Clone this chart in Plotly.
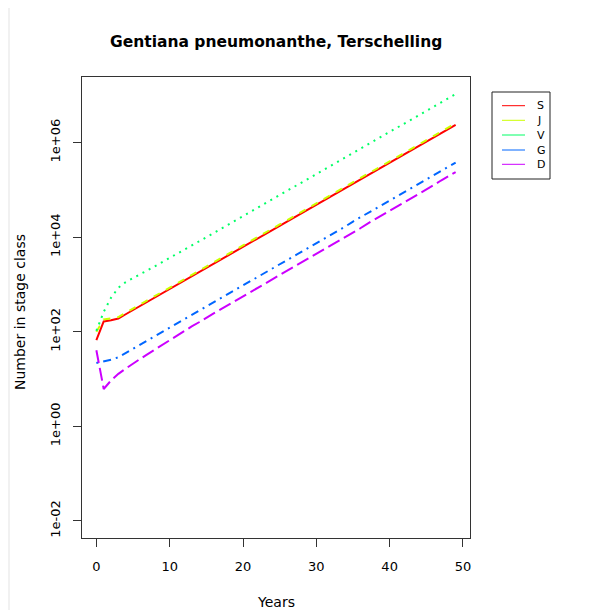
import plotly.graph_objects as go

years = list(range(50))

S = [66.8, 164.8, 175.8, 190.5, 234.4, 288.4, 354.0, 434.5, 533.3, 654.6,
     803.5, 986.3, 1211, 1486, 1824, 2239, 2748, 3373, 4140, 5082,
     6237, 7656, 9397, 11530, 14160, 17380, 21330, 26180, 32140, 39450,
     48420, 59430, 72950, 89540, 109900, 134900, 165600, 203200, 249500, 306200,
     375800, 461300, 566200, 695000, 853100, 1047000, 1285000, 1578000, 1936000, 2377000]

J = [100, 182, 190.5, 204.1, 251.2, 309.0, 379.3, 465.6, 571.4, 701.4,
     861.0, 1057, 1298, 1592, 1954, 2399, 2944, 3614, 4436, 5445,
     6683, 8203, 10070, 12350, 15170, 18620, 22860, 28050, 34440, 42270,
     51880, 63680, 78170, 95940, 117800, 144500, 177400, 217700, 267300, 328100,
     402700, 494300, 606700, 744700, 914100, 1122000, 1377000, 1691000, 2074000, 2547000]

V = [104.7, 263.0, 524.8, 851.1, 1122, 1380, 1660, 1995, 2427, 2951,
     3606, 4406, 5408, 6637, 8147, 10000, 12274, 15070, 18490, 22700,
     27860, 34200, 41980, 51520, 63240, 77620, 95280, 116950, 143550, 176200,
     216300, 265500, 325800, 399900, 490900, 602600, 739600, 907800, 1114000, 1368000,
     1679000, 2061000, 2529000, 3105000, 3811000, 4677000, 5741000, 7047000, 8650000, 10620000]

G = [21.88, 23.44, 25.70, 28.84, 35.08, 43.65, 53.58, 65.77, 80.72, 99.08,
     121.6, 149.3, 183.2, 224.9, 276.1, 338.8, 415.9, 510.5, 626.6, 769.1,
     944.1, 1186, 1456, 1787, 2193, 2692, 3304, 4055, 4977, 6109,
     7499, 9204, 11300, 13870, 17020, 21380, 26240, 32210, 39540, 48530,
     59570, 73110, 89740, 110200, 135200, 166000, 203700, 250000, 306900, 376700]

D = [40.74, 6.166, 9.333, 12.88, 16.60, 21.38, 26.85, 33.73, 42.36, 53.21,
     66.83, 83.95, 105.4, 129.4, 158.9, 199.5, 244.9, 300.6, 369.0, 452.9,
     555.9, 698.2, 857.0, 1052, 1291, 1585, 1945, 2388, 2931, 3681,
     4519, 5546, 6808, 8356, 10260, 12590, 15450, 19410, 23820, 29240,
     35890, 44060, 54080, 67920, 83370, 102300, 125600, 157800, 193600, 237700]

stage_names = ["S", "J", "V", "G", "D"]
stage_values = [S, J, V, G, D]
stage_colors = ["#FF0000", "#CCFF00", "#00FF66", "#0066FF", "#CC00FF"]
stage_dashes = ["solid", "7px,7px", "2px,5px", "2px,5px,8px,5px", "13px,5px"]

x_ticks = [0, 10, 20, 30, 40, 50]
y_ticks = [0.01, 1, 100, 1e4, 1e6]
y_ticktext = ["1e-02", "1e+00", "1e+02", "1e+04", "1e+06"]

# page offset of the plot div (browser body margin)
OFF = 8
W_FIG, H_FIG = 604 - OFF, 610 - OFF
# plot-area box in page pixels (as in the reference)
L, R, T, B = 82, 470, 77, 538
PW, PH = R - L, B - T


def px(x):
    return (x - L) / PW


def py(y):
    return (B - y) / PH


FONT = "DejaVu Sans"

fig = go.Figure()
for name, vals, col, dash in zip(stage_names, stage_values, stage_colors, stage_dashes):
    fig.add_trace(go.Scatter(x=years, y=vals, mode="lines", name=name,
                             line=dict(color=col, width=2, dash=dash),
                             showlegend=False))

shapes = []
# thin grey frame at the left edge of the page
shapes.append(dict(type="rect", xref="paper", yref="paper", x0=px(OFF), x1=px(10),
                   y0=py(612), y1=py(OFF), fillcolor="#f1f1f1", line=dict(width=0), layer="below"))
# legend box
shapes.append(dict(type="rect", xref="paper", yref="paper", x0=px(492), x1=px(550),
                   y0=py(179), y1=py(92), fillcolor="white", line=dict(color="#222", width=1)))
legend_y = [105.7, 120.3, 135.0, 150.0, 164.3]
annotations = []
for name, col, ly in zip(stage_names, stage_colors, legend_y):
    shapes.append(dict(type="line", xref="paper", yref="paper", x0=px(502), x1=px(525),
                       y0=py(ly), y1=py(ly), line=dict(color=col, width=1)))
    annotations.append(dict(x=px(535), y=py(ly), xref="paper", yref="paper", text=name,
                            showarrow=False, xanchor="left", yanchor="middle",
                            font=dict(family=FONT, size=11, color="black")))

annotations.append(dict(x=px(276), y=py(42), xref="paper", yref="paper",
                        text="<b>Gentiana pneumonanthe, Terschelling</b>", showarrow=False,
                        xanchor="center", yanchor="middle",
                        font=dict(family=FONT, size=15.5, color="black")))
annotations.append(dict(x=px(276), y=py(602), xref="paper", yref="paper", text="Years",
                        showarrow=False, xanchor="center", yanchor="middle",
                        font=dict(family=FONT, size=14, color="black")))
annotations.append(dict(x=px(20), y=py(312), xref="paper", yref="paper",
                        text="Number in stage class", showarrow=False, textangle=-90,
                        xanchor="center", yanchor="middle",
                        font=dict(family=FONT, size=14, color="black")))

fig.update_layout(
    width=W_FIG, height=H_FIG,
    margin=dict(l=L - OFF, r=W_FIG - (R - OFF), t=T - OFF, b=H_FIG - (B - OFF), pad=0),
    paper_bgcolor="white", plot_bgcolor="white",
    font=dict(family=FONT, size=13, color="black"),
    shapes=shapes, annotations=annotations,
    xaxis=dict(range=[-1.96, 50.96], tickvals=x_ticks, ticks="outside", ticklen=8,
               tickcolor="#333", showline=True, mirror=True, linecolor="#333", linewidth=1,
               showgrid=False, zeroline=False, ticklabelstandoff=8,
               tickfont=dict(family=FONT, size=13)),
    yaxis=dict(type="log", range=[-2.361, 7.387], tickvals=y_ticks, ticktext=y_ticktext,
               tickangle=-90, ticks="outside", ticklen=8, tickcolor="#333",
               showline=True, mirror=True, linecolor="#333", linewidth=1,
               showgrid=False, zeroline=False, ticklabelstandoff=8,
               tickfont=dict(family=FONT, size=13)),
)

fig.write_html("out.html")
